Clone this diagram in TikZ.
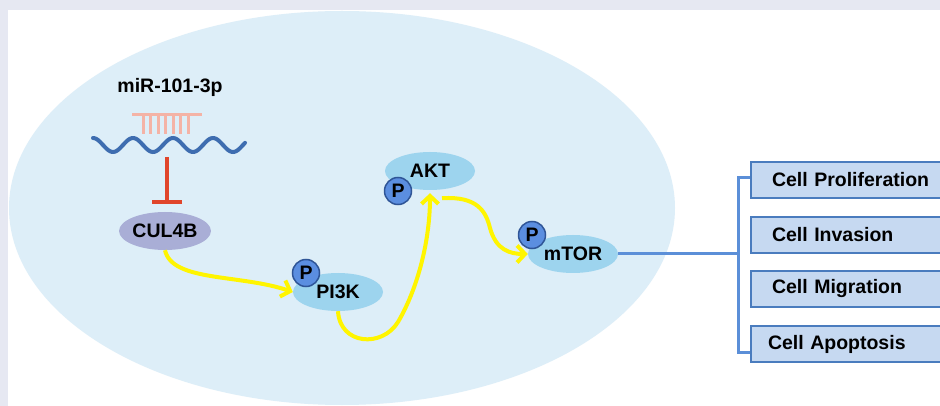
\documentclass[tikz,border=0pt]{standalone}
\usepackage{fontspec}
\setmainfont{Liberation Sans}
\usetikzlibrary{shapes.geometric, arrows.meta, calc}

\definecolor{framegray}{HTML}{E6E8F2}
\definecolor{cellblue}{HTML}{DDEEF8}
\definecolor{protblue}{HTML}{9DD4EE}
\definecolor{culgray}{HTML}{A9AED6}
\definecolor{phosblue}{HTML}{5B8EE0}
\definecolor{phosedge}{HTML}{2F5597}
\definecolor{mirpink}{HTML}{F4B3A6}
\definecolor{rnablue}{HTML}{3E6DB0}
\definecolor{inhred}{HTML}{E0452B}
\definecolor{sigyellow}{HTML}{FFF500}
\definecolor{boxfill}{HTML}{C6D9F1}
\definecolor{boxedge}{HTML}{4A7CBE}
\definecolor{brkblue}{HTML}{5B8FD8}

\begin{document}
\begin{tikzpicture}[x=1pt, y=-1pt, font=\fontsize{19.5}{22}\selectfont\bfseries]
        \tikzstyle{protein} = [ellipse, minimum width=90pt, minimum height=38pt, inner sep=0pt, fill=protblue];
        \tikzstyle{phos} = [circle, minimum size=27pt, inner sep=0pt, fill=phosblue, draw=phosedge, line width=1.5pt];
        \tikzstyle{outcome} = [rectangle, anchor=west, minimum height=36pt, text width=168pt, align=left, inner xsep=21pt, fill=boxfill, draw=boxedge, line width=2pt];
        \tikzstyle{arrow} = [sigyellow, line width=4pt, -{Straight Barb[length=8pt,width=17pt]}];
        \tikzstyle{link} = [brkblue, line width=3pt];

        \clip (0,0) rectangle (940,406);
        \fill[framegray] (0,0) rectangle (940,406);
        \fill[white] (8,10) rectangle (940,406);
        \fill[cellblue] (342,208) ellipse [x radius=333, y radius=197];

        % miRNA bound to its target
        \node(mir) at (170,87) {miR-101-3p};
        \draw[mirpink, line width=3pt] (132,115) -- (202,115);
        \foreach \t in {143,150.5,158,165.5,173,180.5,188}
            \draw[mirpink, line width=3pt] (\t,115) -- (\t,134);
        \draw[rnablue, line width=4pt, line cap=round] plot[domain=93:245, samples=90] (\x, {145-7*cos(9*(\x-93))});

        \node(cul) [protein, fill=culgray] at (165,231) {CUL4B};
        \coordinate(inh) at (167,157);
        \draw[inhred, line width=3.5pt, shorten >=8pt, -{Bar[width=30pt, line width=3.5pt]}] (inh) -- (inh |- cul.north);

        \node(pik) [protein] at (338,292) {PI3K};
        \node(akt) [protein] at (430,171) {AKT};
        \node(mtor) [protein] at (573,254) {mTOR};
        \node(ppik) [phos] at (306,273) {P};
        \node(pakt) [phos] at (398,191) {P};
        \node(pmtor) [phos] at (532,235) {P};

        \draw[arrow] (cul.south) .. controls (172,282) and (240,274) .. (pik.west);
        \draw[arrow] (pik.south) .. controls (340,345) and (382,348) .. (398,322) .. controls (418,288) and (430,240) .. ([yshift=-3pt]akt.south);
        \draw[arrow] ([xshift=12pt,yshift=-8pt]akt.south) .. controls (478,196) and (486,212) .. (490,228) .. controls (496,250) and (510,254) .. (mtor.west);

        % outcomes
        \node(prolif) [outcome] at (750,180) {Cell Proliferation};
        \node(invas) [outcome] at (750,235) {Cell Invasion};
        \node(migr) [outcome] at (750,289) {Cell Migration};
        \node(apop) [outcome, inner xsep=17pt] at (750,344) {Cell Apoptosis};

        \coordinate(brk) at (738,256);
        \draw[link] (mtor.east) -- (mtor.east -| brk);
        \draw[link] ([yshift=2pt]prolif.west) -| (brk) |- ([yshift=-8pt]apop.west);

    \end{tikzpicture}
\end{document}
